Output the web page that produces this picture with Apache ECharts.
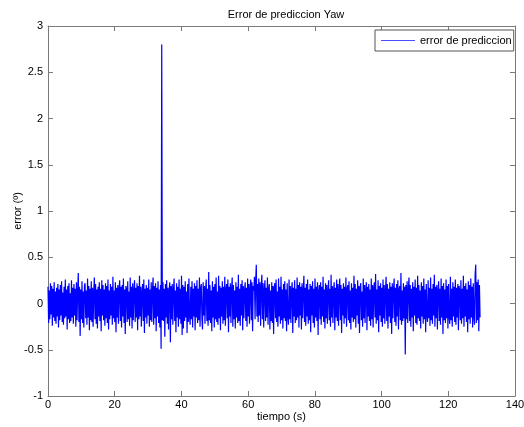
<!DOCTYPE html>
<html>
<head>
<meta charset="utf-8">
<script src="https://cdn.jsdelivr.net/npm/echarts@6/dist/echarts.min.js"></script>
<style>
  html, body { margin: 0; padding: 0; background: #fff; }
  #chart { width: 524px; height: 427px; }
</style>
</head>
<body>
<div id="chart"></div>
<script>
// Prediction error of the yaw angle, in degrees, sampled at a fixed step.
const sampleStep = 0.1853; // seconds between samples

const errorPrediccion = [
  0.18,-0.21,0.14,-0.17,0.22,-0.12,0.19,-0.24,0.16,-0.15,0.23,-0.19,0.13,-0.22,0.17,-0.14,0.21,-0.26,0.15,-0.18,
  0.20,-0.13,0.24,-0.20,0.12,-0.23,0.18,-0.16,0.26,-0.14,0.15,-0.28,0.19,-0.17,0.22,-0.21,0.11,-0.19,0.25,-0.15,
  0.17,-0.22,0.21,-0.13,0.16,-0.25,0.23,-0.18,0.14,0.33,-0.20,0.18,-0.35,0.15,-0.17,0.24,-0.21,0.13,-0.26,0.19,
  0.22,-0.16,0.14,-0.23,0.27,-0.15,0.19,-0.29,0.16,-0.18,0.24,-0.20,0.17,-0.25,0.13,0.28,-0.17,0.21,-0.22,0.15,
  -0.27,0.18,-0.14,0.23,-0.19,0.16,-0.30,0.25,-0.13,0.20,-0.18,0.15,-0.24,0.22,-0.16,0.19,-0.21,0.26,-0.28,0.14,
  -0.17,0.21,-0.13,0.18,-0.23,0.29,-0.16,0.14,-0.20,0.23,-0.31,0.17,-0.15,0.20,-0.22,0.16,0.25,-0.19,0.18,-0.26,
  0.20,-0.14,0.27,-0.21,0.15,-0.33,0.19,0.16,-0.20,0.24,-0.17,0.13,-0.24,0.28,-0.15,0.18,-0.27,0.22,-0.18,0.14,
  0.25,-0.20,0.17,-0.15,0.22,-0.29,0.19,-0.17,0.30,-0.14,0.18,-0.25,0.13,0.21,-0.19,0.26,-0.32,0.16,-0.15,0.20,
  -0.22,0.17,-0.13,0.26,-0.25,0.15,-0.18,0.23,-0.20,0.14,0.28,-0.23,0.19,-0.16,0.22,-0.30,0.17,-0.14,0.24,-0.21,
  0.15,-0.26,0.20,-0.49,2.80,-0.18,0.23,-0.19,0.16,-0.36,0.21,-0.15,0.25,-0.22,0.17,-0.28,0.14,0.23,-0.42,0.19,
  -0.17,0.21,-0.23,0.15,0.27,-0.19,0.14,-0.31,0.22,-0.15,0.18,-0.25,0.26,-0.17,0.16,-0.22,0.30,-0.34,0.20,-0.27,
  0.18,-0.19,0.24,-0.15,0.13,-0.32,0.21,-0.20,0.27,-0.14,-0.23,0.18,-0.17,0.24,-0.26,0.16,-0.14,0.22,-0.29,0.19,
  -0.15,0.25,-0.21,0.16,-0.18,0.28,-0.25,0.17,0.21,-0.16,-0.28,0.23,-0.13,0.19,-0.22,0.15,0.26,-0.19,0.16,-0.24,
  0.34,-0.18,0.20,-0.21,0.14,-0.30,0.24,-0.15,0.18,-0.26,0.21,-0.17,0.28,-0.20,0.13,-0.23,0.30,-0.16,0.19,-0.29,
  0.17,-0.14,0.24,-0.22,0.18,-0.18,0.29,-0.24,0.15,0.21,-0.16,0.26,-0.31,0.18,-0.14,0.22,-0.21,0.16,0.28,-0.25,
  0.20,-0.17,0.14,-0.27,0.23,-0.15,0.18,-0.21,0.31,-0.19,0.16,-0.24,0.21,-0.13,0.25,-0.29,0.19,-0.16,0.14,0.23,
  -0.19,0.17,-0.25,0.27,-0.14,0.21,-0.22,0.16,0.26,-0.18,0.23,-0.30,0.19,0.14,0.29,-0.17,0.25,0.42,-0.14,0.21,
  -0.20,0.27,-0.13,0.23,-0.24,0.18,0.31,-0.17,0.22,-0.26,0.15,0.25,-0.19,0.17,-0.15,0.28,-0.23,0.16,0.21,-0.28,
  0.14,-0.19,0.23,-0.21,0.19,-0.33,0.17,0.22,-0.16,0.26,-0.20,0.13,-0.25,0.27,-0.14,0.18,-0.22,0.29,-0.18,0.15,
  -0.27,0.21,-0.16,0.24,-0.19,0.15,-0.30,0.22,-0.13,-0.23,0.26,-0.17,0.19,-0.21,0.14,0.23,-0.32,0.17,-0.14,0.25,
  -0.21,0.16,-0.18,0.28,-0.15,0.20,-0.26,0.23,-0.13,0.18,-0.28,0.22,-0.16,0.14,0.30,-0.20,0.17,-0.24,0.21,-0.14,
  0.26,-0.22,0.15,-0.18,0.21,-0.31,0.19,-0.13,0.24,-0.21,0.16,-0.26,0.27,-0.15,0.18,-0.19,0.23,-0.34,0.13,0.20,
  -0.17,0.23,-0.23,0.18,-0.14,0.29,-0.20,0.15,-0.27,0.22,-0.16,0.20,-0.22,0.13,0.25,-0.18,0.16,-0.25,0.31,-0.15,
  0.19,-0.21,0.14,0.23,-0.29,0.17,-0.15,0.26,-0.19,0.21,-0.24,0.14,0.27,-0.18,0.20,-0.32,0.16,-0.13,0.22,-0.22,
  0.18,-0.16,0.28,-0.25,0.15,0.20,-0.18,0.24,-0.21,0.14,-0.28,0.22,-0.15,0.17,-0.20,0.30,-0.17,0.21,-0.26,0.16,
  -0.13,0.25,-0.22,0.19,-0.32,0.17,0.22,-0.18,0.13,-0.25,0.27,-0.16,0.20,-0.21,0.15,0.23,-0.29,0.18,-0.14,0.21,
  -0.19,0.15,-0.24,0.27,-0.17,0.20,-0.26,0.17,0.23,-0.15,0.32,-0.22,0.15,-0.18,0.25,-0.31,0.19,-0.13,0.22,-0.20,
  0.17,-0.25,0.26,-0.16,0.20,-0.22,0.13,0.29,-0.19,0.21,-0.27,0.16,-0.14,0.23,-0.21,0.18,-0.33,0.22,-0.16,0.15,
  0.27,-0.20,0.17,-0.24,0.21,-0.14,0.25,-0.28,0.15,0.19,-0.18,0.33,-0.23,0.14,-0.19,0.22,-0.16,0.18,-0.55,0.20,
  -0.17,0.24,-0.21,0.15,0.28,-0.19,0.20,-0.25,0.16,-0.15,0.23,-0.30,0.18,-0.13,0.26,-0.21,0.17,-0.23,0.30,-0.16,
  0.20,-0.19,0.14,-0.27,0.23,-0.14,0.19,-0.22,0.27,-0.17,0.15,-0.31,0.21,-0.13,-0.20,0.25,-0.16,0.17,-0.24,0.28,
  -0.18,0.16,-0.22,0.21,-0.13,0.31,-0.25,0.18,-0.16,0.20,-0.28,0.14,0.24,-0.19,0.16,-0.23,0.27,-0.15,0.19,-0.33,
  0.22,-0.18,0.15,-0.21,0.26,-0.16,0.19,-0.27,0.21,-0.14,-0.22,0.29,-0.18,0.16,-0.25,0.23,-0.14,0.18,-0.20,0.26,
  -0.23,0.17,-0.15,0.21,-0.29,0.19,0.14,-0.18,0.25,-0.22,0.16,-0.16,0.30,-0.25,0.19,-0.14,0.22,-0.20,0.15,-0.31,
  0.24,-0.17,0.20,-0.22,0.27,-0.15,0.18,-0.26,0.22,-0.14,-0.23,0.31,0.42,-0.21,0.23,-0.18,0.26,-0.30,0.20,-0.15
];

// Axis settings
const xRange = { min: 0, max: 140, interval: 20 };
const yRange = { min: -1, max: 3, interval: 0.5 };

const tiempo = errorPrediccion.map((_, i) => +(i * sampleStep).toFixed(4));
const serie = tiempo.map((t, i) => [t, errorPrediccion[i]]);

const font = 'Liberation Sans, Arial, sans-serif';
const frameColor = '#7a7a7a';

const chart = echarts.init(document.getElementById('chart'), null, { renderer: 'canvas' });

function frameAxis() {
  return {
    axisLine: { show: true, onZero: false, lineStyle: { color: frameColor, width: 1 } },
    axisTick: { show: true, inside: true, length: 5, lineStyle: { color: frameColor } },
    splitLine: { show: false }
  };
}

chart.setOption({
  animation: false,
  backgroundColor: '#ffffff',
  title: {
    text: 'Error de prediccion Yaw',
    left: 281,
    textAlign: 'center',
    top: 4,
    textStyle: { fontFamily: font, fontSize: 11, fontWeight: 'normal', color: '#000' }
  },
  legend: {
    data: [{ name: 'error de prediccion', icon: 'rect' }],
    left: 375,
    top: 30,
    padding: [5, 2, 5, 6],
    itemWidth: 34,
    itemHeight: 1,
    itemGap: 4,
    borderColor: '#555',
    borderWidth: 1,
    borderRadius: 0,
    backgroundColor: '#fff',
    itemStyle: { color: '#4b4bff' },
    textStyle: { fontFamily: font, fontSize: 11, color: '#000' }
  },
  grid: { left: 48, right: 9, top: 26, bottom: 31, containLabel: false, outerBoundsMode: 'none' },
  xAxis: [
    Object.assign({
      type: 'value',
      position: 'bottom',
      min: xRange.min, max: xRange.max, interval: xRange.interval,
      name: 'tiempo (s)',
      nameLocation: 'middle',
      nameGap: 15,
      nameMoveOverlap: false,
      nameTextStyle: { fontFamily: font, fontSize: 11, color: '#000' },
      axisLabel: { margin: 3, fontFamily: font, fontSize: 11, color: '#000' }
    }, frameAxis()),
    Object.assign({
      type: 'value',
      position: 'top',
      min: xRange.min, max: xRange.max, interval: xRange.interval,
      axisLabel: { show: false }
    }, frameAxis())
  ],
  yAxis: [
    Object.assign({
      type: 'value',
      position: 'left',
      min: yRange.min, max: yRange.max, interval: yRange.interval,
      name: 'error (º)',
      nameLocation: 'middle',
      nameGap: 25,
      nameMoveOverlap: false,
      nameTextStyle: { fontFamily: font, fontSize: 11, color: '#000' },
      axisLabel: { margin: 5, fontFamily: font, fontSize: 11, color: '#000' }
    }, frameAxis()),
    Object.assign({
      type: 'value',
      position: 'right',
      min: yRange.min, max: yRange.max, interval: yRange.interval,
      axisLabel: { show: false }
    }, frameAxis())
  ],
  series: [{
    name: 'error de prediccion',
    type: 'line',
    xAxisIndex: 0,
    yAxisIndex: 0,
    data: serie,
    symbol: 'none',
    showSymbol: false,
    sampling: null,
    lineStyle: { color: '#0000ff', width: 1.2 },
    itemStyle: { color: '#0000ff' },
    emphasis: { disabled: true }
  }]
});
</script>
</body>
</html>
